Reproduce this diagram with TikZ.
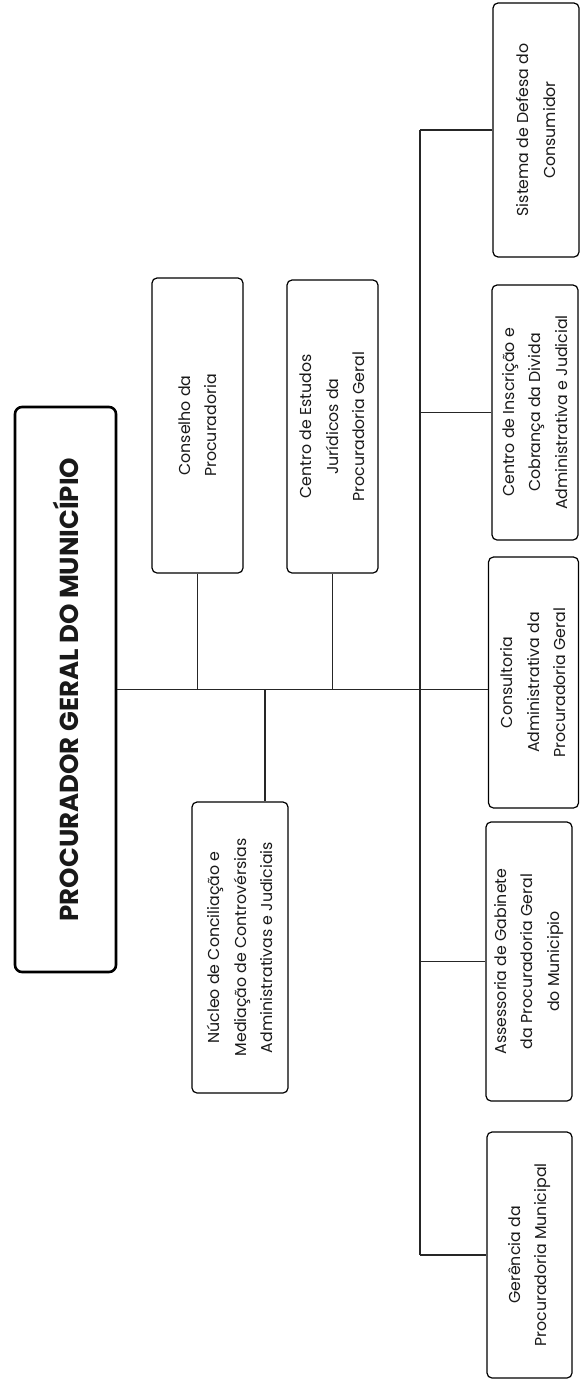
\documentclass[tikz,border=0pt]{standalone}
\usepackage{fontspec}
\setmainfont{Poppins}
\usepackage{tikz}
\usetikzlibrary{positioning, calc}
\tikzstyle{Link} = [line width=1.2pt, black!85]

\begin{document}
\begin{tikzpicture}[x=1pt, y=-1pt,
box/.style={
    draw, line width=1.2pt, rounded corners=5pt, rotate=90,
    align=center, inner sep=0pt, text=black!90,
    font=\fontsize{15.8}{26.5}\selectfont
    },
headbox/.style={
    box, line width=2.6pt, rounded corners=7pt,
    font=\fontsize{26}{30}\selectfont\bfseries
    }
]
\useasboundingbox (0,0) rectangle (579,1379);

\node [headbox, minimum width=565pt, minimum height=101pt] (pgm) at (65.5,689.5)
    {PROCURADOR GERAL DO MUNICÍPIO};

\node [box, minimum width=295pt, minimum height=91pt] (conselho) at (197.5,425.5)
    {Conselho da\\Procuradoria};
\node [box, minimum width=293pt, minimum height=91pt] (estudos) at (332.5,426.5)
    {Centro de Estudos\\Jurídicos da\\Procuradoria Geral};
\node [box, minimum width=291pt, minimum height=96pt] (nucleo) at (240,947.5)
    {Núcleo de Conciliação e\\Mediação de Controvérsias\\Administrativas e Judiciais};

\node [box, minimum width=254pt, minimum height=86pt] (sistema) at (536,130)
    {Sistema de Defesa do\\Consumidor};
\node [box, minimum width=255pt, minimum height=86pt] (inscricao) at (535,412.5)
    {Centro de Inscrição e\\Cobrança da Divida\\Administrativa e Judicial};
\node [box, minimum width=251pt, minimum height=90pt] (consult) at (533.5,682.5)
    {Consultoria\\Administrativa da\\Procuradoria Geral};
\node [box, minimum width=279pt, minimum height=86pt] (assess) at (529,961.5)
    {Assessoria de Gabinete\\da Procuradoria Geral\\do Municipio};
\node [box, minimum width=246pt, minimum height=85pt] (gerencia) at (529.5,1255)
    {Gerência da\\Procuradoria Municipal};

\coordinate (hub) at (420,689.5);
\coordinate (jn) at (265,689.5);

\draw[Link] (pgm.south) -- (pgm.south -| consult.north);
\draw[Link] (conselho.west) -- (conselho.west |- pgm.south);
\draw[Link] (estudos.west) -- (estudos.west |- pgm.south);
\draw[Link] (jn) -- (jn |- nucleo.east);

\draw[Link] (hub |- sistema.north) -- (hub |- gerencia.north);
\foreach \n in {sistema, inscricao, assess, gerencia}
    \draw[Link] (hub |- \n.north) -- (\n.north);

\end{tikzpicture}
\end{document}
